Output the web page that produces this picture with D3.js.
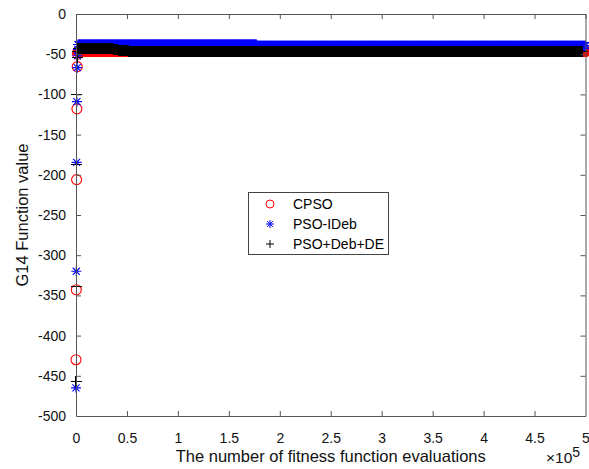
<!DOCTYPE html>
<html>
<head>
<meta charset="utf-8">
<script src="https://cdn.jsdelivr.net/npm/d3@7/dist/d3.min.js"></script>
<style>
  html, body { margin: 0; padding: 0; background: #fff; }
  svg { display: block; font-family: Arial, "Liberation Sans", sans-serif; }
</style>
</head>
<body>
<svg id="chart" width="589" height="469"></svg>
<script>
// Best function value recorded during the first evaluations of each run
const cpsoStartEvals   = [0, 300, 600, 900, 1200, 1500];
const cpsoStartValues  = [-430, -343, -206, -118, -65.5, -50];
const idebStartEvals   = [0, 300, 600, 900, 1200, 1500, 1800];
const idebStartValues  = [-465, -320, -184.5, -109, -66.7, -52, -44];
const hybridStartEvals = [0, 300, 600, 900, 1200, 1500];
const hybridStartValues = [-457, -339, -187, -100, -54, -47];

// Later record: constant stretches [from, to, value], logged every 500 evaluations
const sampleStep = 500;
const cpsoRuns   = [[2000, 500000, -46.6]];
const idebRuns   = [[2000, 177000, -38.0], [177500, 500000, -39.4]];
const hybridRuns = [[2000, 36000, -42.9], [36500, 41000, -44.0], [41500, 46000, -45.0],
                    [46500, 51000, -45.9], [51500, 497000, -46.6]];

// Axis ticks
const xTicks = [0, 50000, 100000, 150000, 200000, 250000, 300000, 350000, 400000, 450000, 500000];
const xTickLabels = ["0", "0.5", "1", "1.5", "2", "2.5", "3", "3.5", "4", "4.5", "5"];
const yTicks = [0, -50, -100, -150, -200, -250, -300, -350, -400, -450, -500];
const yTickLabels = ["0", "-50", "-100", "-150", "-200", "-250", "-300", "-350", "-400", "-450", "-500"];

const seriesNames = ["CPSO", "PSO-IDeb", "PSO+Deb+DE"];

function buildSeries(evals, values, runs) {
  const pts = evals.map((e, i) => ({ x: e, y: values[i] }));
  runs.forEach(([from, to, v]) => {
    for (let e = from; e <= to; e += sampleStep) pts.push({ x: e, y: v });
  });
  return pts;
}

const series = [
  { name: seriesNames[0], color: "#ff0000", marker: "circle", size: 10,
    pts: buildSeries(cpsoStartEvals, cpsoStartValues, cpsoRuns) },
  { name: seriesNames[1], color: "#0000ff", marker: "asterisk", size: 10,
    pts: buildSeries(idebStartEvals, idebStartValues, idebRuns) },
  { name: seriesNames[2], color: "#000000", marker: "plus", size: 11,
    pts: buildSeries(hybridStartEvals, hybridStartValues, hybridRuns) }
];

const margin = { left: 76, top: 14, right: 3.5, bottom: 53 };
const W = 589, H = 469;
const x = d3.scaleLinear().domain([0, 500000]).range([margin.left, W - margin.right]);
const y = d3.scaleLinear().domain([-500, 0]).range([H - margin.bottom, margin.top]);

const svg = d3.select("#chart");
const axisColor = "#555";

function markerPath(type, s) {
  const h = s / 2, d = h * 0.7071;
  if (type === "plus") return `M${-h},0H${h}M0,${-h}V${h}`;
  if (type === "asterisk") return `M${-h},0H${h}M0,${-h}V${h}M${-d},${-d}L${d},${d}M${-d},${d}L${d},${-d}`;
  return d3.symbol().type(d3.symbolCircle).size(Math.PI * h * h)();
}

// Data markers (drawn in legend order, last one on top)
series.forEach(s => {
  svg.append("g")
    .attr("shape-rendering", s.marker === "plus" ? "crispEdges" : null)
    .selectAll("path")
    .data(s.pts)
    .join("path")
    .attr("transform", d => `translate(${x(d.x)},${y(d.y)})`)
    .attr("d", markerPath(s.marker, s.size))
    .attr("fill", "none")
    .attr("stroke", s.color)
    .attr("stroke-width", 1.1);
});

// Axes (box with inward ticks)
const fontSize = 14;
const gx = svg.append("g").attr("transform", `translate(0,${y(-500)})`)
  .call(d3.axisBottom(x).tickValues(xTicks).tickSizeInner(-5).tickSizeOuter(0)
    .tickFormat((d, i) => xTickLabels[i]).tickPadding(17));
const gxTop = svg.append("g").attr("transform", `translate(0,${y(0)})`)
  .call(d3.axisTop(x).tickValues(xTicks).tickSizeInner(-5).tickSizeOuter(0).tickFormat(""));
const gy = svg.append("g").attr("transform", `translate(${x(0)},0)`)
  .call(d3.axisLeft(y).tickValues(yTicks).tickSizeInner(-5).tickSizeOuter(0)
    .tickFormat((d, i) => yTickLabels[i]).tickPadding(10));
const gyRight = svg.append("g").attr("transform", `translate(${x(500000)},0)`)
  .call(d3.axisRight(y).tickValues(yTicks).tickSizeInner(-5).tickSizeOuter(0).tickFormat(""));

[gx, gxTop, gy, gyRight].forEach(g => {
  g.selectAll(".domain").attr("stroke", axisColor).attr("stroke-width", 1);
  g.selectAll(".tick line").attr("stroke", axisColor).attr("stroke-width", 1);
  g.selectAll("text").attr("fill", "#111").attr("font-size", fontSize)
    .attr("font-family", "Arial, 'Liberation Sans', sans-serif");
});
gx.selectAll(".tick text").attr("dy", "0.71em");
gx.selectAll(".tick").filter(d => d === 500000 || d === 0).select("line").remove();
gy.selectAll(".tick").filter(d => d === 0 || d === -500).select("line").remove();

// Axis titles
svg.append("text")
  .attr("x", (x(0) + x(500000)) / 2).attr("y", 461.5)
  .attr("text-anchor", "middle").attr("font-size", 16.5).attr("fill", "#111")
  .text("The number of fitness function evaluations");

svg.append("text")
  .attr("transform", `translate(28,${(y(0) + y(-500)) / 2}) rotate(-90)`)
  .attr("text-anchor", "middle").attr("font-size", 16.5).attr("fill", "#111")
  .text("G14 Function value");

// Exponent of the x axis
const expo = svg.append("text").attr("x", 546).attr("y", 463)
  .attr("font-size", 15.5).attr("fill", "#111");
expo.append("tspan").text("\u00d710");
expo.append("tspan").attr("dy", -6).attr("font-size", 14).text("5");

// Legend
const lg = svg.append("g");
lg.append("rect").attr("x", 248.5).attr("y", 192.5).attr("width", 140).attr("height", 62)
  .attr("fill", "#fff").attr("stroke", "#444").attr("stroke-width", 1);
series.forEach((s, i) => {
  const cy = 204 + i * 20;
  lg.append("path").attr("transform", `translate(270,${cy})`)
    .attr("d", markerPath(s.marker, 8)).attr("fill", "none")
    .attr("stroke", s.color).attr("stroke-width", 1);
  lg.append("text").attr("x", 293).attr("y", cy).attr("dy", "0.35em")
    .attr("font-size", 14).attr("fill", "#000").text(s.name);
});
</script>
</body>
</html>
